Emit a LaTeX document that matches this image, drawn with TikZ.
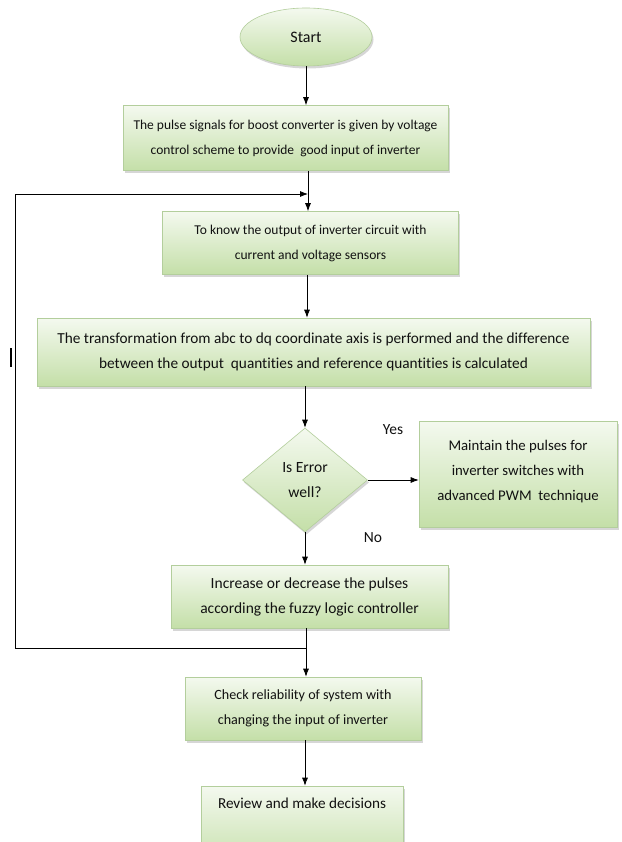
\documentclass[tikz,border=0pt]{standalone}
\usepackage{fontspec}
\setmainfont{Carlito}[Ligatures={NoCommon}]
\usetikzlibrary{shapes.geometric,arrows.meta,shadows}

\definecolor{boxtop}{HTML}{F4F9EF}
\definecolor{boxbottom}{HTML}{C4DFA8}
\definecolor{boxedge}{HTML}{B3CE9C}
\definecolor{ink}{HTML}{111111}

\newcommand{\fsz}[1]{\fontsize{#1}{25}\selectfont}

\tikzset{
  stage/.style={rectangle, draw=boxedge, line width=0.6pt,
    top color=boxtop, bottom color=boxbottom,
    drop shadow={opacity=0.35, shadow xshift=1.5pt, shadow yshift=-2.5pt, fill=black!45},
    align=center, inner sep=0pt, font=\fsz{13.5}, text=ink},
  flow/.style={draw=black, line width=0.8pt, -{Latex[length=8pt,width=6pt]}},
  plain/.style={draw=black, line width=0.8pt},
  answer/.style={font=\fontsize{15.5}{17}\selectfont, text=ink},
}

\begin{document}
\begin{tikzpicture}[x=1pt, y=-1pt]
  \useasboundingbox (0,0) rectangle (621,842);
  \clip (0,0) rectangle (621,842);
  \fill[white] (0,0) rectangle (621,842);

  % process stages
  \node[stage, ellipse, minimum width=132, minimum height=58, font=\fsz{16}] (start) at (306,37) {Start};
  \node[stage, minimum width=325, minimum height=65] (b1) at (285.5,138)
    {The pulse signals for boost converter is given by voltage\\control scheme to provide\ \ good input of inverter};
  \node[stage, minimum width=296, minimum height=63] (b2) at (310.5,243)
    {To know the output of inverter circuit with\\current and voltage sensors};
  \node[stage, minimum width=553, minimum height=68, font=\fsz{15.3}] (b3) at (313.5,352)
    {The transformation from abc to dq coordinate\ axis is performed and the difference\\between the output\ \ quantities and reference quantities is calculated};
  \node[stage, diamond, minimum width=125, minimum height=104, aspect=1.2, font=\fsz{15.6}] (dec) at (305,480) {Is Error\\well?};
  \node[stage, minimum width=198, minimum height=106, text depth=8pt, font=\fsz{14.8}] (pwm) at (518,474)
    {Maintain the pulses for\\inverter switches with\\advanced PWM\ \ technique};
  \node[stage, minimum width=277, minimum height=63, font=\fsz{15.5}] (b4) at (309.5,596.5)
    {Increase or decrease the pulses\\according the fuzzy logic controller};
  \node[stage, minimum width=236, minimum height=63, font=\fsz{14.1}] (b5) at (303,708.5)
    {Check reliability of system with\\changing the input of inverter};
  \node[stage, anchor=base, minimum width=202, text height=22pt, text depth=62pt, font=\fsz{15.2}] (b6) at (302,808)
    {Review and make decisions};

  % branch labels
  \node[answer] (yes) at (393,430) {Yes};
  \node[answer] (no) at (373,538) {No};

  % guide points of the vertical connectors
  \coordinate (axisA) at (308,0);
  \coordinate (axisB) at (307,0);
  \coordinate (axisC) at (305,0);

  % feedback path
  \coordinate (loopin) at (308,194);
  \coordinate (loopout) at (306,648);
  \coordinate (lefttop) at (15,194);
  \coordinate (leftbot) at (15,648);

  % connectors
  \draw[flow] (start.south) -- (start |- b1.north);
  \draw[flow] (b1.south -| axisA) -- (b2.north -| axisA);
  \draw[flow] (leftbot) -- (lefttop) -- (loopin);
  \draw[flow] (b2.south -| axisB) -- (b3.north -| axisB);
  \draw[flow] (b3.south -| dec.north) -- (dec.north);
  \draw[flow] (dec.east) -- (pwm.west |- dec.east);
  \draw[flow] (dec.south) -- (dec.south |- b4.north);
  \draw[plain] (b4.south -| loopout) -- (loopout) -- (leftbot);
  \draw[flow] (loopout) -- (loopout |- b5.north);
  \draw[flow] (b5.south -| axisC) -- (b6.north -| axisC);

  % stray cursor mark on the left margin
  \draw[line width=2pt] (11,348) -- (11,367);
\end{tikzpicture}
\end{document}
